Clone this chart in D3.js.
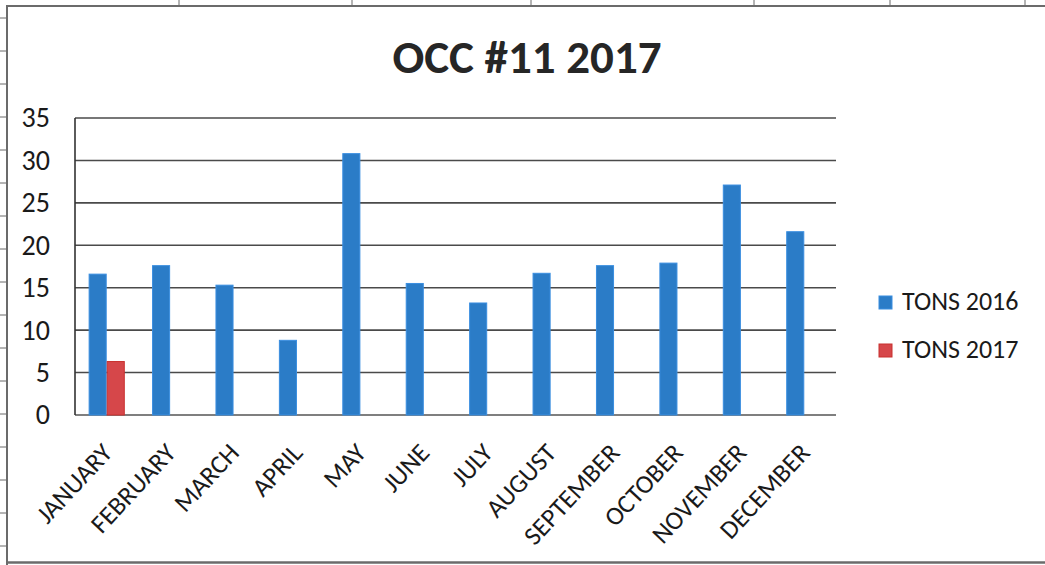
<!DOCTYPE html>
<html><head><meta charset="utf-8">
<script src="https://cdn.jsdelivr.net/npm/d3@7"></script>
<style>body{margin:0;background:#fff} svg{display:block}</style>
</head><body><svg id="c" width="1045" height="565"></svg>
<script>
const title = "OCC #11 2017";
const months = ["JANUARY","FEBRUARY","MARCH","APRIL","MAY","JUNE","JULY","AUGUST","SEPTEMBER","OCTOBER","NOVEMBER","DECEMBER"];
const tons2016 = [16.6,17.6,15.3,8.8,30.8,15.5,13.2,16.7,17.6,17.9,27.1,21.6];
const tons2017 = [6.3,null,null,null,null,null,null,null,null,null,null,null];
const seriesNames = ["TONS 2016","TONS 2017"];
const yTicks = [0,5,10,15,20,25,30,35];

const colors = {"TONS 2016":"#2b7cc7","TONS 2017":"#d6474a"};
const strokes = {"TONS 2016":"#3a8ee0","TONS 2017":"#c8302e"};
const FONT = "Carlito, Calibri, Lato, sans-serif";

const svg = d3.select("#c");
const W = 1045, H = 565;
const m = {left:75, right:836, top:118, bottom:415};

// scanned sheet ticks and frame
const frame = svg.append("g").attr("stroke","#6b6b6b");
[179,352,531,754,890,1025].forEach(x=>frame.append("line").attr("x1",x).attr("x2",x).attr("y1",0).attr("y2",6).attr("stroke-width",1));
d3.range(18,560,33).forEach(y=>frame.append("line").attr("x1",0).attr("x2",7).attr("y1",y).attr("y2",y).attr("stroke-width",1));
frame.append("path").attr("d",`M7,${H}L7,6L${W},6`).attr("fill","none").attr("stroke-width",2);
frame.append("line").attr("x1",7).attr("x2",W).attr("y1",562.5).attr("y2",562.5).attr("stroke-width",2.5);

const x = d3.scaleBand().domain(months).range([m.left,m.right]).paddingInner(0.43).paddingOuter(0.215);
const xs = d3.scaleBand().domain(seriesNames).range([0,x.bandwidth()]);
const y = d3.scaleLinear().domain([0,35]).range([m.bottom,m.top]);

// gridlines
svg.append("g").selectAll("line").data(yTicks).join("line")
  .attr("x1",m.left).attr("x2",m.right).attr("y1",d=>y(d)).attr("y2",d=>y(d))
  .attr("stroke",d=>d===0?"#555":"#4a4a4a").attr("stroke-width",1.6);
svg.append("line").attr("x1",m.left).attr("x2",m.left).attr("y1",y(35)).attr("y2",y(0)).attr("stroke","#333").attr("stroke-width",1.6);

// y labels
const yAxis = d3.axisLeft(y).tickValues(yTicks).tickSize(0).tickPadding(25);
const ya = svg.append("g").attr("transform",`translate(${m.left},0)`).call(yAxis);
ya.select(".domain").remove();
ya.selectAll("text").attr("font-family",FONT).attr("font-size",28).attr("fill","#1a1a1a");

// bars
const data = [];
months.forEach((mo,i)=>{
  data.push({m:mo,s:"TONS 2016",v:tons2016[i]});
  if(tons2017[i]!=null) data.push({m:mo,s:"TONS 2017",v:tons2017[i]});
});
svg.append("g").selectAll("rect").data(data).join("rect")
  .attr("x",d=>x(d.m)+xs(d.s)+0.5).attr("width",xs.bandwidth()-1)
  .attr("y",d=>y(d.v)).attr("height",d=>y(0)-y(d.v))
  .attr("fill",d=>colors[d.s]).attr("stroke",d=>strokes[d.s]).attr("stroke-width",1);

// x labels
svg.append("g").selectAll("text").data(months).join("text")
  .attr("transform",d=>`translate(${x(d)+x.bandwidth()/2+7},${m.bottom+39}) rotate(-47)`)
  .attr("text-anchor","end").attr("font-family",FONT).attr("font-size",26).attr("fill","#1a1a1a")
  .text(d=>d);

// title
svg.append("text").attr("x",527).attr("y",73).attr("text-anchor","middle")
  .attr("font-family",FONT).attr("font-weight","bold").attr("font-size",47).attr("fill","#262626").text(title);

// legend
const lg = svg.append("g").selectAll("g").data(seriesNames).join("g")
  .attr("transform",(d,i)=>`translate(879,${296+i*48})`);
lg.append("rect").attr("width",13).attr("height",13).attr("fill",d=>colors[d]).attr("stroke",d=>strokes[d]);
lg.append("text").attr("x",23).attr("y",14).attr("font-family",FONT).attr("font-size",26).attr("fill","#1a1a1a").text(d=>d);
</script></body></html>
